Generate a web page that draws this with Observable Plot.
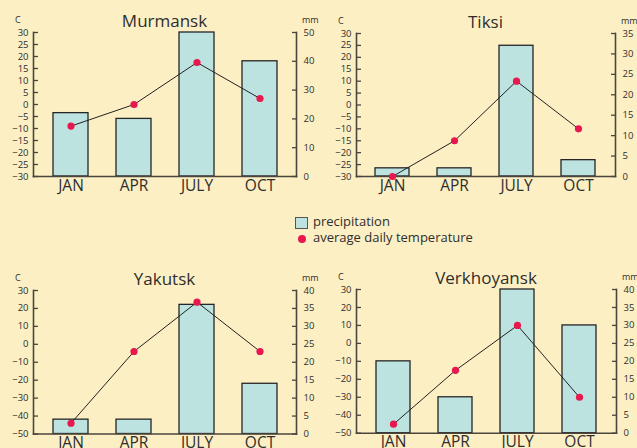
<!DOCTYPE html>
<html><head><meta charset="utf-8">
<script src="https://cdn.jsdelivr.net/npm/d3@7"></script>
<script src="https://cdn.jsdelivr.net/npm/@observablehq/plot@0.6"></script>
<style>
html,body{margin:0;padding:0;background:#fdefc4;overflow:hidden;width:637px;height:448px;}
body{position:relative;font-family:"Open Sans",sans-serif;color:#2e2e2e;}
.panel{position:absolute;}
.panel svg{position:absolute;left:0;top:0;overflow:visible;background:transparent;}
.lbl{position:absolute;white-space:nowrap;line-height:1;}
.title{font-size:17px;transform:translateX(-50%);}
.unit{font-size:9px;}
.leg{font-size:13px;}
</style></head><body>
<script>
const months = ["JAN", "APR", "JULY", "OCT"];
const cities = ["Murmansk", "Tiksi", "Yakutsk", "Verkhoyansk"];
const murmanskPrecip = [22, 20, 50, 40];
const murmanskTemp = [-9, 0, 17.5, 2.5];
const tiksiPrecip = [2, 2, 32, 4];
const tiksiTemp = [-30, -15, 10, -10];
const yakutskPrecip = [4, 4, 36, 14];
const yakutskTemp = [-44, -4, 23.5, -4];
const verkhoyanskPrecip = [20, 10, 40, 30];
const verkhoyanskTemp = [-45, -15, 10, -30];
const tempTicksA = d3.range(-30, 31, 5);
const tempTicksB = d3.range(-50, 31, 10);
const precipTicksMurmansk = d3.range(0, 51, 10);
const precipTicksTiksi = d3.range(0, 36, 5);
const precipTicks40 = d3.range(0, 41, 5);
const legendLabels = ["precipitation", "average daily temperature"];

const BAR = "#bde3e1", AX = "#4a463e", DOT = "#e8174f", INK = "#2e2e2e";

function panel({name, precip, temp, tTicks, pTicks, left, top, w, h, ml, mr, mt, mb}) {
  const div = document.createElement("div");
  div.className = "panel";
  div.style.cssText = `left:${left}px;top:${top}px;width:${w}px;height:${h}px;`;
  document.body.appendChild(div);
  const data = months.map((m, i) => ({month: m, precip: precip[i], temp: temp[i]}));
  const xs = {type: "band", domain: months, paddingInner: 0.45, paddingOuter: 0.31};
  const common = {width: w, height: h, marginLeft: ml, marginRight: mr, marginTop: mt, marginBottom: mb,
    style: {background: "transparent", fontFamily: "Open Sans, sans-serif", color: INK, overflow: "visible"}};
  const bars = Plot.plot({
    ...common,
    x: {...xs, axis: null},
    y: {domain: [pTicks[0], pTicks[pTicks.length - 1]], axis: null},
    marks: [
      Plot.barY(data, {x: "month", y: "precip", fill: BAR, stroke: "#262626", strokeWidth: 1.3}),
      Plot.axisY(pTicks, {anchor: "right", label: null, tickSize: -5, tickPadding: 12, fontSize: 9.5, fill: INK, stroke: AX, strokeWidth: 1.3}),
      Plot.frame({anchor: "right", stroke: AX, strokeWidth: 1.6}),
      Plot.frame({anchor: "bottom", stroke: AX, strokeWidth: 1.6})
    ]
  });
  const lines = Plot.plot({
    ...common,
    x: {...xs, axis: null},
    y: {domain: [tTicks[0], tTicks[tTicks.length - 1]], axis: null},
    marks: [
      Plot.axisX({anchor: "bottom", label: null, tickSize: 0, tickPadding: 3, fontSize: 15.5, fill: INK}),
      Plot.axisY(tTicks, {anchor: "left", label: null, tickSize: -5, tickPadding: 10, fontSize: 9.5, fill: INK, stroke: AX, strokeWidth: 1.3}),
      Plot.frame({anchor: "left", stroke: AX, strokeWidth: 1.6}),
      Plot.line(data, {x: "month", y: "temp", stroke: "#222", strokeWidth: 1}),
      Plot.dot(data, {x: "month", y: "temp", r: 3.6, fill: DOT, stroke: "none"})
    ]
  });
  div.appendChild(bars);
  div.appendChild(lines);
  const t = document.createElement("div");
  t.className = "lbl title"; t.textContent = name;
  t.style.left = (ml + (w - ml - mr) / 2) + "px"; t.style.top = (mt - 20) + "px";
  div.appendChild(t);
  const c = document.createElement("div");
  c.className = "lbl unit"; c.textContent = "C";
  c.style.left = (ml - 18) + "px"; c.style.top = (mt - 17) + "px";
  div.appendChild(c);
  const mm = document.createElement("div");
  mm.className = "lbl unit"; mm.textContent = "mm";
  mm.style.left = (w - mr + 6) + "px"; mm.style.top = (mt - 17) + "px";
  div.appendChild(mm);
}

panel({name: cities[0], precip: murmanskPrecip, temp: murmanskTemp, tTicks: tempTicksA, pTicks: precipTicksMurmansk,
  left: 0, top: 0, w: 320, h: 200, ml: 33, mr: 24, mt: 32, mb: 24});
panel({name: cities[1], precip: tiksiPrecip, temp: tiksiTemp, tTicks: tempTicksA, pTicks: precipTicksTiksi,
  left: 320, top: 0, w: 317, h: 200, ml: 36, mr: 22, mt: 33, mb: 24});
panel({name: cities[2], precip: yakutskPrecip, temp: yakutskTemp, tTicks: tempTicksB, pTicks: precipTicks40,
  left: 0, top: 260, w: 320, h: 200, ml: 33, mr: 24, mt: 30, mb: 26.5});
panel({name: cities[3], precip: verkhoyanskPrecip, temp: verkhoyanskTemp, tTicks: tempTicksB, pTicks: precipTicks40,
  left: 320, top: 260, w: 317, h: 200, ml: 36, mr: 21, mt: 29, mb: 27.3});

// legend
const lg = document.createElement("div");
lg.style.cssText = "position:absolute;left:295px;top:216px;";
lg.innerHTML = `<div style="position:absolute;left:0;top:1px;width:13px;height:12px;background:${BAR};border:1.3px solid #555;box-sizing:border-box;"></div>
<div class="lbl leg" style="left:18px;top:-1px;">${legendLabels[0]}</div>
<div style="position:absolute;left:3px;top:19px;width:8px;height:8px;border-radius:50%;background:${DOT};"></div>
<div class="lbl leg" style="left:18px;top:15px;">${legendLabels[1]}</div>`;
document.body.appendChild(lg);
</script>
</body></html>
